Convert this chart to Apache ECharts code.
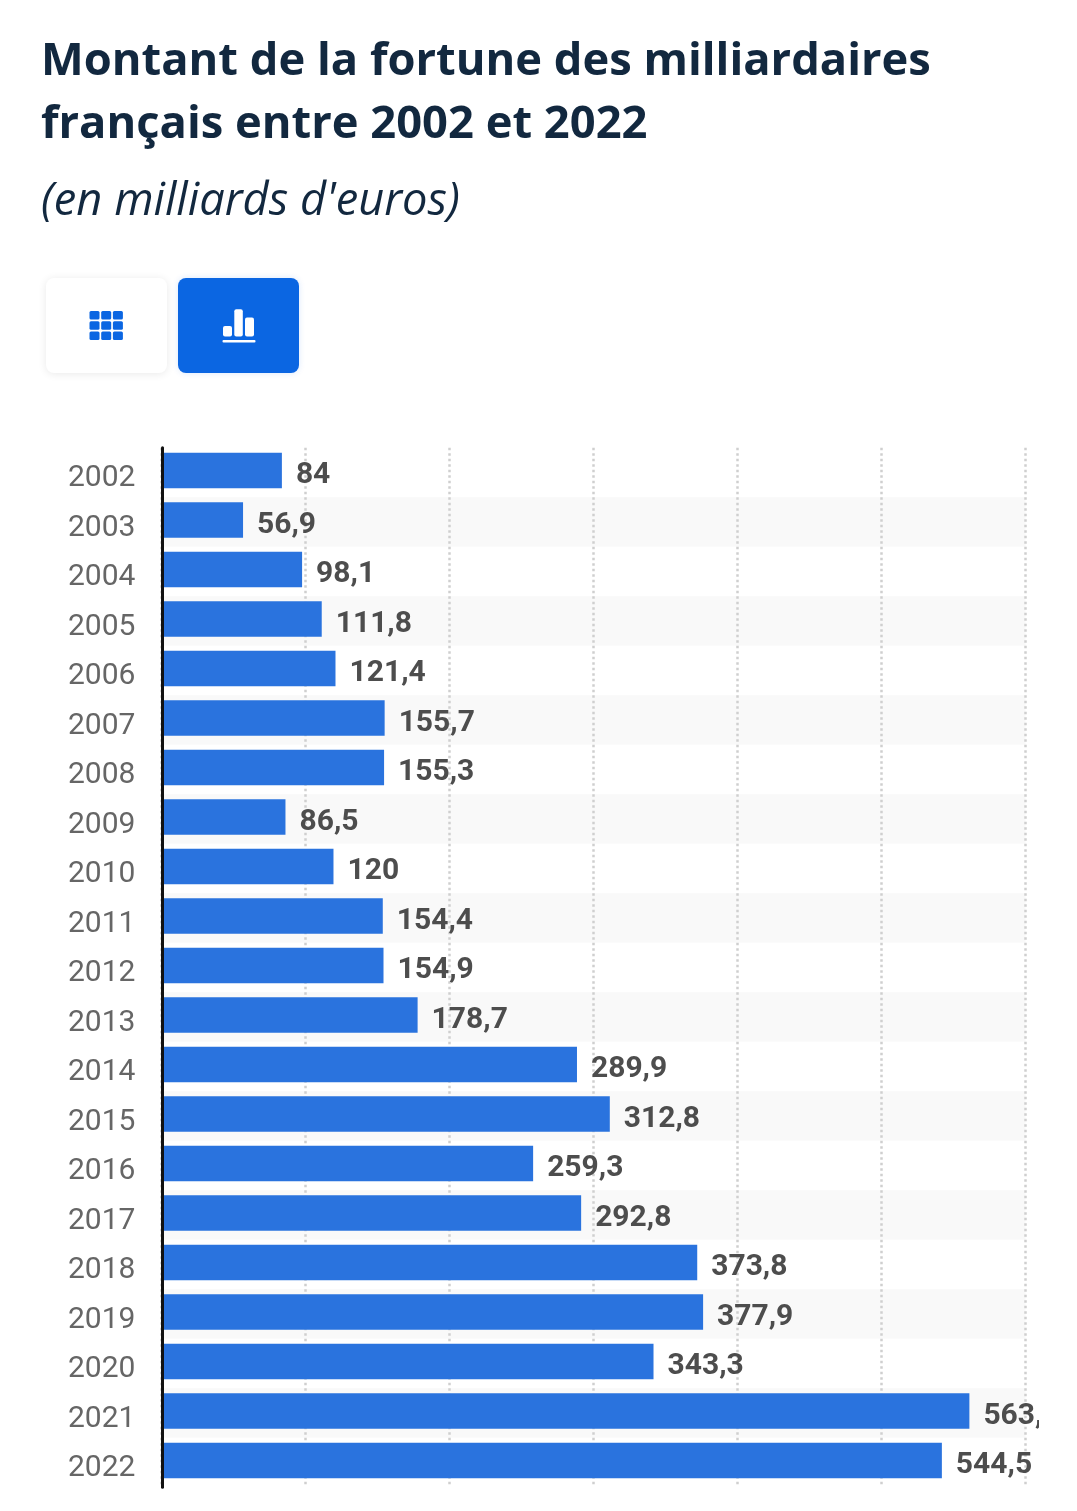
<!DOCTYPE html>
<html><head><meta charset="utf-8">
<style>html,body{margin:0;padding:0;background:#fff}#c{width:1077px;height:1511px}</style>
<script src="https://cdn.jsdelivr.net/npm/echarts@6/dist/echarts.min.js"></script></head>
<body><div id="c"></div>
<script>
const years=['2002','2003','2004','2005','2006','2007','2008','2009','2010','2011','2012','2013','2014','2015','2016','2017','2018','2019','2020','2021','2022'];
const fortune=[84,56.9,98.1,111.8,121.4,155.7,155.3,86.5,120,154.4,154.9,178.7,289.9,312.8,259.3,292.8,373.8,377.9,343.3,563.7,544.5];
const gridTicks=[0,100,200,300,400,500,600];
const titleLines=['Montant de la fortune des milliardaires','français entre 2002 et 2022'];
const subtitle="(en milliards d'euros)";
const navy='#12283f', blue='#2a73de', btn='#0b66e2';
const chart=echarts.init(document.getElementById('c'),null,{renderer:'canvas'});
const r=(x,y,w,h,fill,rad)=>({type:'rect',shape:{x,y,width:w,height:h,r:rad||0},style:{fill}});
const icons=[];
[0,1,2].forEach(i=>[0,1,2].forEach(j=>icons.push(r(89.5+i*11.7,311+j*10.3,10,8.5,btn,1.5))));
chart.setOption({
  animation:false,
  backgroundColor:'#fff',
  title:[
    {text:titleLines[0],left:41,top:40,padding:0,textStyle:{fontFamily:'Open Sans',fontWeight:700,fontSize:45.3,color:navy}},
    {text:titleLines[1],left:41,top:103,padding:0,textStyle:{fontFamily:'Open Sans',fontWeight:700,fontSize:45.3,color:navy}},
    {text:subtitle,left:41,top:180,padding:0,textStyle:{fontFamily:'Open Sans',fontStyle:'italic',fontWeight:400,fontSize:45.2,color:navy}}
  ],
  grid:[
    {left:161.5,top:445.75,width:864,height:1039.5},
    {left:161.5,top:447.8,width:864,height:1039.5}
  ],
  xAxis:[
    {type:'value',gridIndex:0,min:0,max:602.85,show:false,splitLine:{show:false}},
    {type:'value',gridIndex:1,min:gridTicks[0],max:gridTicks[gridTicks.length-1],interval:100,position:'bottom',
     axisLabel:{show:false},axisLine:{show:false},axisTick:{show:false},
     splitLine:{show:true,lineStyle:{color:'#cfcfcf',width:2.5,type:[2.5,3]}}}
  ],
  yAxis:[
    {type:'category',gridIndex:0,inverse:true,data:years,show:false},
    {type:'category',gridIndex:1,inverse:true,data:years,
      axisLine:{show:false},axisTick:{show:false},axisLabel:{show:false},splitLine:{show:false},
      splitArea:{show:true,interval:0,areaStyle:{color:['#ffffff','#f9f9f9']}}},
    {type:'category',gridIndex:1,inverse:true,data:years,position:'left',offset:-0.9,z:5,
      axisLine:{show:true,onZero:false,lineStyle:{color:'#111',width:3}},axisTick:{show:false},
      axisLabel:{interval:0,margin:27,verticalAlign:'top',lineHeight:12,fontFamily:'Roboto',fontSize:30,color:'#666'},
      splitLine:{show:false},splitArea:{show:false}}
  ],
  series:[{type:'bar',data:fortune,barWidth:35.5,xAxisIndex:0,yAxisIndex:0,
    itemStyle:{color:blue},
    label:{show:true,position:'right',distance:14,offset:[0,5],fontFamily:'Roboto',fontWeight:700,fontSize:30,color:'#4d4d4d',
      formatter:p=>String(p.value).replace('.',',')}
  }],
  graphic:[
    {type:'rect',shape:{x:1039,y:1380,width:38,height:60},style:{fill:'#fff'},z:100},
    {type:'rect',shape:{x:46,y:278,width:121,height:95,r:8},style:{fill:'#fff',shadowBlur:8,shadowColor:'rgba(0,0,0,0.09)',shadowOffsetY:1},z:5},
    {type:'rect',shape:{x:178,y:278,width:121,height:95,r:8},style:{fill:btn,shadowBlur:6,shadowColor:'rgba(10,104,232,0.15)'},z:5},
    {type:'group',z:6,children:icons.map(o=>Object.assign(o,{z:6}))},
    Object.assign(r(223,326,9,10.5,'#fff',2),{z:6}),
    Object.assign(r(234.3,309.3,8.5,27.2,'#fff',2),{z:6}),
    Object.assign(r(245,317.5,9,19,'#fff',2),{z:6}),
    Object.assign(r(222.5,340,33,2.5,'#fff',1),{z:6})
  ]
});
</script></body></html>
